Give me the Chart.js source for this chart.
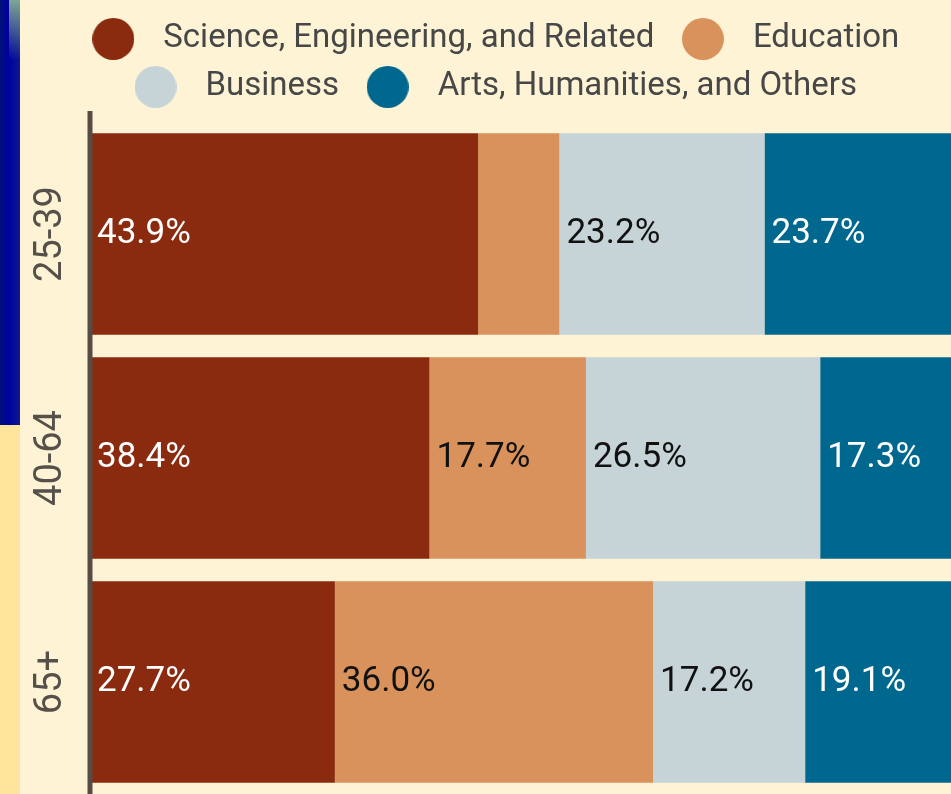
<!DOCTYPE html>
<html>
<head>
<meta charset="utf-8">
<script src="https://cdn.jsdelivr.net/npm/chart.js@4.4.1/dist/chart.umd.min.js"></script>
<style>
    html, body { margin: 0; padding: 0; width: 951px; height: 794px; overflow: hidden; background: #FFF3D5; }
    #stripTop { position: absolute; left: 0; top: 0; width: 20px; height: 425px;
        background: linear-gradient(to right, #001078 0%, #0000a2 45%, #0a1a8c 100%); }
    #stripTopGlow { position: absolute; left: 9px; top: 0; width: 11px; height: 60px;
        background: linear-gradient(to bottom, #7fa595, rgba(0,0,160,0)); }
    #stripBottom { position: absolute; left: 0; top: 425px; width: 20px; height: 369px; background: #FFE49B; }
    #wrap { position: absolute; left: 0; top: 3px; }
</style>
</head>
<body>
<div id="stripTop"></div>
<div id="stripTopGlow"></div>
<div id="stripBottom"></div>
<div id="wrap"><canvas id="fieldChart" width="974" height="791"></canvas></div>
<script>
const ageGroups = ['25-39', '40-64', '65+'];
const fieldNames = ['Science, Engineering, and Related', 'Education', 'Business', 'Arts, Humanities, and Others'];
const scienceShare = [43.9, 38.4, 27.7];
const educationShare = [9.2, 17.7, 36.0];
const businessShare = [23.2, 26.5, 17.2];
const artsShare = [23.7, 17.3, 19.1];
const fieldColors = ['#8A2A0E', '#D9925B', '#C6D4D8', '#00688F'];
const labelColors = ['#ffffff', '#111111', '#111111', '#ffffff'];

// round legend markers (image point styles so the box width can be wider than the dot)
function makeDot(color) {
    const c = document.createElement('canvas');
    c.width = 42;
    c.height = 42;
    const g = c.getContext('2d');
    g.fillStyle = color;
    g.beginPath();
    g.arc(21, 21, 21, 0, Math.PI * 2);
    g.fill();
    return c;
}
const legendDots = fieldColors.map(makeDot);

const legendSpacing = {
    id: 'legendSpacing',
    beforeInit(chart) {
        const fit = chart.legend.fit;
        chart.legend.fit = function() {
            fit.bind(chart.legend)();
            this.height += 8.5;
        };
    }
};

const axisLine = {
    id: 'axisLine',
    afterDatasetsDraw(chart) {
        const { ctx, chartArea } = chart;
        ctx.save();
        ctx.fillStyle = '#574B45';
        ctx.fillRect(chartArea.left - 2.5, chartArea.top - 11, 5, chartArea.bottom - chartArea.top + 11);
        ctx.restore();
    }
};

const barLabels = {
    id: 'barLabels',
    afterDatasetsDraw(chart) {
        const ctx = chart.ctx;
        ctx.save();
        ctx.font = '35px Roboto';
        ctx.textAlign = 'left';
        ctx.textBaseline = 'middle';
        chart.data.datasets.forEach((ds, di) => {
            const meta = chart.getDatasetMeta(di);
            meta.data.forEach((bar, i) => {
                const text = ds.data[i].toFixed(1) + '%';
                const w = ctx.measureText(text).width;
                const left = Math.min(bar.x, bar.base);
                const barW = Math.abs(bar.x - bar.base);
                if (w + 14 > barW) return;
                ctx.fillStyle = labelColors[di];
                ctx.fillText(text, left + 7, bar.y);
            });
        });
        ctx.restore();
    }
};

const seriesValues = [scienceShare, educationShare, businessShare, artsShare];

new Chart(document.getElementById('fieldChart'), {
    type: 'bar',
    data: {
        labels: ageGroups,
        datasets: fieldNames.map((name, i) => ({
            label: name,
            data: seriesValues[i],
            backgroundColor: fieldColors[i],
            borderWidth: 0,
            categoryPercentage: 1,
            barPercentage: 0.9
        }))
    },
    options: {
        indexAxis: 'y',
        responsive: false,
        animation: false,
        layout: { padding: { top: 4.5, left: 5, right: 0, bottom: 0 } },
        scales: {
            x: {
                display: false,
                stacked: true,
                min: 0,
                max: 100
            },
            y: {
                stacked: true,
                grid: { display: false, drawTicks: false },
                border: { display: false },
                ticks: {
                    minRotation: 90,
                    maxRotation: 90,
                    crossAlign: 'center',
                    padding: -9,
                    color: '#555049',
                    font: { family: 'Roboto', size: 38 }
                },
                afterFit(scale) {
                    scale.width = 85;
                    scale.paddingTop = 0;
                    scale.paddingBottom = 0;
                }
            }
        },
        plugins: {
            tooltip: { enabled: false },
            legend: {
                position: 'top',
                labels: {
                    usePointStyle: true,
                    pointStyleWidth: 67,
                    padding: 15,
                    color: '#474747',
                    font: { family: 'Roboto', size: 33 },
                    generateLabels(chart) {
                        const items = Chart.defaults.plugins.legend.labels.generateLabels(chart);
                        items.forEach(item => { item.pointStyle = legendDots[item.datasetIndex]; });
                        return items;
                    }
                }
            }
        }
    },
    plugins: [legendSpacing, axisLine, barLabels]
});
</script>
</body>
</html>
